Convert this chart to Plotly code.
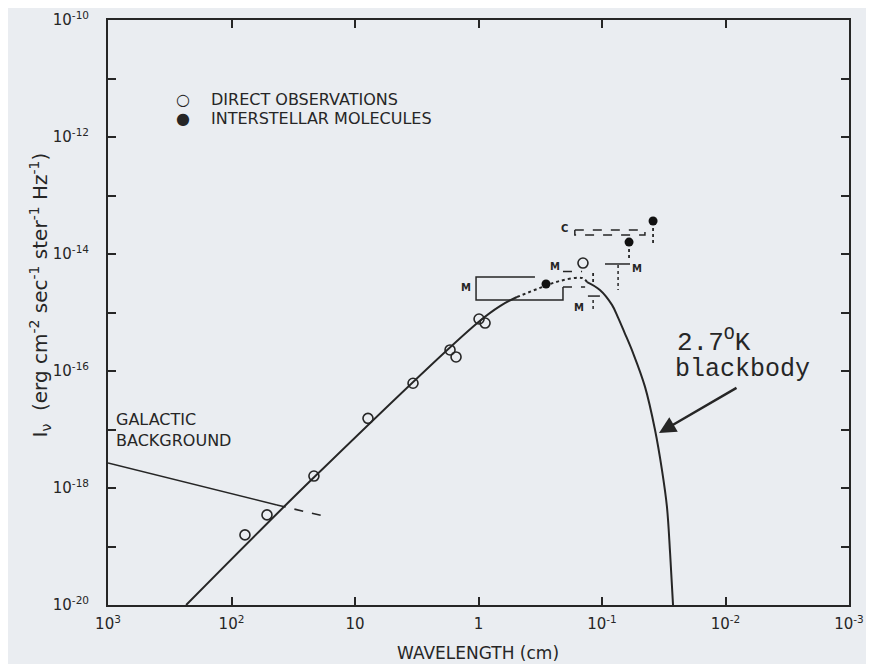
import plotly.graph_objects as go

# ---------------- data ----------------
# 2.7 K blackbody curve (wavelength cm, intensity erg cm^-2 s^-1 sr^-1 Hz^-1)
bb_rj_lam = [233, 22.3, 1.0, 0.67, 0.488]
bb_rj_I = [1.0e-20, 1.41e-18, 6.9e-16, 1.29e-15, 1.84e-15]
bb_peak_lam = [0.488, 0.318, 0.219, 0.145, 0.132]
bb_peak_I = [1.84e-15, 2.63e-15, 3.47e-15, 3.89e-15, 3.31e-15]
bb_wien_lam = [0.132, 0.104, 0.083, 0.0741, 0.0656, 0.0561, 0.0449, 0.0372, 0.0327, 0.0298, 0.0281, 0.0266]
bb_wien_I = [3.31e-15, 2.43e-15, 1.35e-15, 8.2e-16, 4.5e-16, 2.04e-16, 5.4e-17, 9.8e-18, 2.04e-18, 4.8e-19, 7.8e-20, 1.0e-20]

# galactic background
gal_lam = [1000, 42.9]
gal_I = [2.67e-18, 5.13e-19]
gal_ext_lam = [42.9, 16.6]
gal_ext_I = [5.13e-19, 3.19e-19]

# direct observations (open circles)
direct_lam = [0.99, 0.885, 1.70, 1.52, 3.39, 7.85, 21.5, 51.6, 77.8, 0.1426]
direct_I = [7.74e-16, 6.6e-16, 2.29e-16, 1.74e-16, 6.17e-17, 1.55e-17, 1.60e-18, 3.47e-19, 1.58e-19, 7.0e-15]

# interstellar molecules (filled circles)
mol_lam = [0.0386, 0.0604, 0.284]
mol_I = [3.66e-14, 1.60e-14, 3.07e-15]

# small vertical error marks (lam, I_top, I_bottom)
err_lam = [0.0386, 0.0604, 0.118]
err_top = [2.78e-14, 1.22e-14, 4.73e-15]
err_bot = [1.37e-14, 8.2e-15, 3.19e-15]

# upper-limit bars (M = molecular, C = CN)
m1_lam = [0.0946, 0.0593]; m1_I = [6.75e-15, 6.75e-15]
m1_tick_lam = [0.0741, 0.0741]; m1_tick_I = [6.5e-15, 2.43e-15]
m2_lam = [0.130, 0.104]; m2_I = [1.91e-15, 1.91e-15]
m2_tick_lam = [0.118, 0.118]; m2_tick_I = [1.64e-15, 1.02e-15]
m3_lam = [0.207, 0.145]; m3_I = [5.0e-15, 5.0e-15]
c_lam = [0.166, 0.0449, 0.0449, 0.166, 0.166]
c_I = [2.57e-14, 2.57e-14, 2.11e-14, 2.11e-14, 2.57e-14]
box_lam = [0.349, 1.047, 1.047, 0.207, 0.207]
box_I = [4.05e-15, 4.05e-15, 1.64e-15, 1.64e-15, 2.73e-15]
box_dash_lam = [0.207, 0.137]
box_dash_I = [2.73e-15, 2.73e-15]

# labels for limits: (log10 lam, log10 I, text)
lim_labels = [(0.101, -14.58, "M"), (-0.619, -14.222, "M"), (-1.283, -14.256, "M"),
              (-0.814, -14.906, "M"), (-0.700, -13.56, "C")]

# key entries
key_symbols = ["○", "●"]
key_texts = ["DIRECT OBSERVATIONS", "INTERSTELLAR MOLECULES"]

x_tickvals = [1e3, 1e2, 1e1, 1, 1e-1, 1e-2, 1e-3]
x_ticktext = ["10<sup>3</sup>", "10<sup>2</sup>", "10", "1", "10<sup>-1</sup>", "10<sup>-2</sup>", "10<sup>-3</sup>"]
y_tickvals = [10.0 ** (-k) for k in range(10, 21)]
y_ticktext = ["10<sup>-%d</sup>" % k if k % 2 == 0 else "" for k in range(10, 21)]

# ---------------- figure ----------------
INK = "#262626"
BG = "#eaedf1"
fig = go.Figure()


def line(x, y, dash="solid", width=1.8, shape="linear"):
    fig.add_trace(go.Scatter(x=x, y=y, mode="lines", showlegend=False, hoverinfo="skip",
                             line=dict(color=INK, width=width, dash=dash, shape=shape)))


line(bb_rj_lam, bb_rj_I, shape="spline", width=2)
line(bb_peak_lam, bb_peak_I, dash="dot", shape="spline", width=2)
line(bb_wien_lam, bb_wien_I, shape="spline", width=2)
line(gal_lam, gal_I, width=1.6)
line(gal_ext_lam, gal_ext_I, dash="dash", width=1.6)

for xs, ys, d in [(m1_lam, m1_I, "solid"), (m1_tick_lam, m1_tick_I, "dot"),
                  (m2_lam, m2_I, "solid"), (m2_tick_lam, m2_tick_I, "dot"),
                  (m3_lam, m3_I, "dash"), (c_lam, c_I, "dash"),
                  (box_lam, box_I, "solid"), (box_dash_lam, box_dash_I, "dash")]:
    line(xs, ys, dash=d, width=1.5)

for lx, t, b in zip(err_lam, err_top, err_bot):
    line([lx, lx], [t, b], dash="dot", width=1.8)

fig.add_trace(go.Scatter(x=direct_lam, y=direct_I, mode="markers", name=key_texts[0], showlegend=False,
                         marker=dict(symbol="circle-open", size=10, color=INK, line=dict(width=1.6, color=INK))))
fig.add_trace(go.Scatter(x=mol_lam, y=mol_I, mode="markers", name=key_texts[1], showlegend=False,
                         marker=dict(symbol="circle", size=9, color="#111111")))

ann = []
for lx, ly, t in lim_labels:
    ann.append(dict(x=lx, y=ly, xref="x", yref="y", text="<b>%s</b>" % t, showarrow=False,
                    font=dict(family="DejaVu Sans", size=10, color=INK)))

# page body has an 8px margin; figure placed so that the plot area sits at
# page pixels x 108..849, y 20..605
OFF = 8
FW, FH = 874 - OFF, 664 - OFF
W0, W1 = 108 - OFF, 849 - OFF
H0, H1 = 20 - OFF, 605 - OFF


def px(xp):
    return (xp - OFF - W0) / (W1 - W0)


def py(yp):
    return (H1 - (yp - OFF)) / (H1 - H0)


for i, (sym, txt) in enumerate(zip(key_symbols, key_texts)):
    yrow = 100 + 18.5 * i
    ann.append(dict(x=px(183), y=py(yrow), xref="paper", yref="paper", xanchor="center",
                    yanchor="middle", text=sym, showarrow=False,
                    font=dict(family="DejaVu Sans", size=16, color=INK)))
    ann.append(dict(x=px(209), y=py(yrow), xref="paper", yref="paper", xanchor="left",
                    yanchor="middle", text=txt, showarrow=False,
                    font=dict(family="DejaVu Sans", size=16, color=INK)))

ann += [
    dict(x=px(675), y=py(341), xref="paper", yref="paper", xanchor="left", yanchor="middle",
         text="2.7<sup>O</sup>K", showarrow=False,
         font=dict(family="Liberation Mono", size=26, color=INK)),
    dict(x=px(673), y=py(369), xref="paper", yref="paper", xanchor="left", yanchor="middle",
         text="blackbody", showarrow=False,
         font=dict(family="Liberation Mono", size=25, color=INK)),
    dict(x=px(114), y=py(419), xref="paper", yref="paper", xanchor="left", yanchor="middle",
         text="GALACTIC", showarrow=False, font=dict(family="DejaVu Sans", size=16, color=INK)),
    dict(x=px(114), y=py(440), xref="paper", yref="paper", xanchor="left", yanchor="middle",
         text="BACKGROUND", showarrow=False, font=dict(family="DejaVu Sans", size=16, color=INK)),
    dict(x=px(659), y=py(433), xref="paper", yref="paper", ax=79, ay=-46, text="",
         showarrow=True, arrowhead=2, arrowsize=1.4, arrowwidth=2.4, arrowcolor=INK),
    dict(x=px(23), y=py(295), xref="paper", yref="paper", textangle=-90, showarrow=False,
         text="I<sub>ν</sub>  (erg cm<sup>-2</sup> sec<sup>-1</sup> ster<sup>-1</sup> Hz<sup>-1</sup>)",
         font=dict(family="DejaVu Sans", size=20, color=INK)),
    dict(x=px(478), y=py(653), xref="paper", yref="paper", showarrow=False,
         text="WAVELENGTH (cm)", yanchor="middle",
         font=dict(family="DejaVu Sans", size=17, color=INK)),
]

fig.update_layout(
    width=FW, height=FH,
    margin=dict(l=W0, r=FW - W1, t=H0, b=FH - H1),
    paper_bgcolor=BG, plot_bgcolor=BG,
    font=dict(family="DejaVu Sans", color=INK),
    annotations=ann,
    showlegend=False,
    xaxis=dict(type="log", range=[3, -3], tickvals=x_tickvals, ticktext=x_ticktext,
               ticks="inside", ticklen=8, tickwidth=1.5, tickcolor=INK,
               showline=True, linecolor=INK, linewidth=2, mirror="ticks",
               showgrid=False, zeroline=False, ticklabelstandoff=4, automargin=False,
               tickfont=dict(family="DejaVu Sans", size=15, color=INK)),
    yaxis=dict(type="log", range=[-20, -10], tickvals=y_tickvals, ticktext=y_ticktext,
               ticks="inside", ticklen=8, tickwidth=1.5, tickcolor=INK,
               showline=True, linecolor=INK, linewidth=2, mirror="ticks",
               showgrid=False, zeroline=False, ticklabelstandoff=14, automargin=False,
               tickfont=dict(family="DejaVu Sans", size=15, color=INK)),
)

fig.write_html("out.html")
